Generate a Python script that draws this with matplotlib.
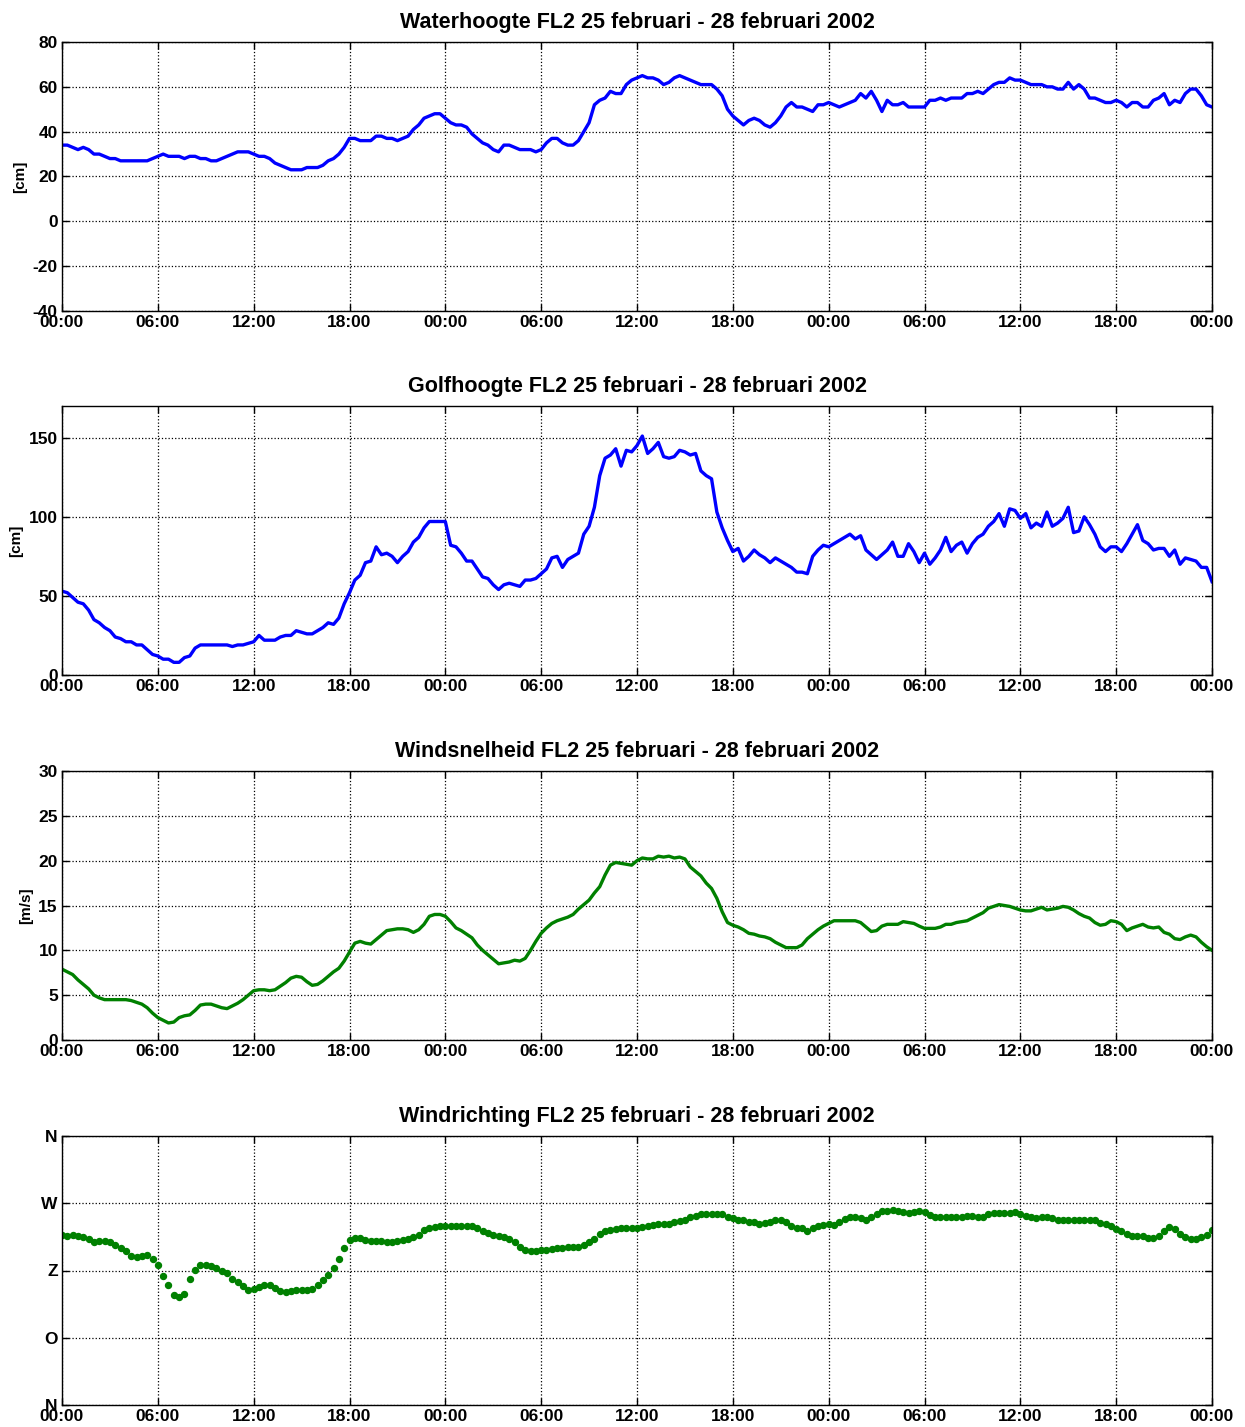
import numpy as np
import pandas as pd
import matplotlib
matplotlib.use("Agg")
import matplotlib.pyplot as plt
import matplotlib.dates as mdates

plt.rcParams['font.family'] = ['Liberation Sans', 'DejaVu Sans']
plt.rcParams['font.weight'] = 'bold'
plt.rcParams['axes.unicode_minus'] = False

# 20-minute samples, 25 feb 00:00 .. 28 feb 00:00
times = pd.date_range("2002-02-25 00:00", "2002-02-28 00:00", freq="20min")

waterhoogte = [
    34, 34, 33, 32, 33, 32, 30, 30, 29, 28, 28, 27,
    27, 27, 27, 27, 27, 28, 29, 30, 29, 29, 29, 28,
    29, 29, 28, 28, 27, 27, 28, 29, 30, 31, 31, 31,
    30, 29, 29, 28, 26, 25, 24, 23, 23, 23, 24, 24,
    24, 25, 27, 28, 30, 33, 37, 37, 36, 36, 36, 38,
    38, 37, 37, 36, 37, 38, 41, 43, 46, 47, 48, 48,
    46, 44, 43, 43, 42, 39, 37, 35, 34, 32, 31, 34,
    34, 33, 32, 32, 32, 31, 32, 35, 37, 37, 35, 34,
    34, 36, 40, 44, 52, 54, 55, 58, 57, 57, 61, 63,
    64, 65, 64, 64, 63, 61, 62, 64, 65, 64, 63, 62,
    61, 61, 61, 59, 56, 50, 47, 45, 43, 45, 46, 45,
    43, 42, 44, 47, 51, 53, 51, 51, 50, 49, 52, 52,
    53, 52, 51, 52, 53, 54, 57, 55, 58, 54, 49, 54,
    52, 52, 53, 51, 51, 51, 51, 54, 54, 55, 54, 55,
    55, 55, 57, 57, 58, 57, 59, 61, 62, 62, 64, 63,
    63, 62, 61, 61, 61, 60, 60, 59, 59, 62, 59, 61,
    59, 55, 55, 54, 53, 53, 54, 53, 51, 53, 53, 51,
    51, 54, 55, 57, 52, 54, 53, 57, 59, 59, 56, 52,
    51,
]

golfhoogte = [
    53, 52, 49, 46, 45, 41, 35, 33, 30, 28, 24, 23,
    21, 21, 19, 19, 16, 13, 12, 10, 10, 8, 8, 11,
    12, 17, 19, 19, 19, 19, 19, 19, 18, 19, 19, 20,
    21, 25, 22, 22, 22, 24, 25, 25, 28, 27, 26, 26,
    28, 30, 33, 32, 36, 45, 52, 60, 63, 71, 72, 81,
    76, 77, 75, 71, 75, 78, 84, 87, 93, 97, 97, 97,
    97, 82, 81, 77, 72, 72, 67, 62, 61, 57, 54, 57,
    58, 57, 56, 60, 60, 61, 64, 67, 74, 75, 68, 73,
    75, 77, 89, 94, 106, 126, 137, 139, 143, 132, 142, 141,
    145, 151, 140, 143, 147, 138, 137, 138, 142, 141, 139, 140,
    129, 126, 124, 103, 93, 85, 78, 80, 72, 75, 79, 76,
    74, 71, 74, 72, 70, 68, 65, 65, 64, 75, 79, 82,
    81, 83, 85, 87, 89, 86, 88, 79, 76, 73, 76, 79,
    84, 75, 75, 83, 78, 71, 77, 70, 74, 79, 87, 78,
    82, 84, 77, 83, 87, 89, 94, 97, 102, 94, 105, 104,
    99, 102, 93, 96, 94, 103, 94, 96, 99, 106, 90, 91,
    100, 95, 89, 81, 78, 81, 81, 78, 83, 89, 95, 85,
    83, 79, 80, 80, 75, 79, 70, 74, 73, 72, 68, 68,
    59,
]

windsnelheid = [
    7.9, 7.6, 7.3, 6.7, 6.2, 5.7, 5.0, 4.7, 4.5, 4.5, 4.5, 4.5,
    4.5, 4.4, 4.2, 4.0, 3.6, 3.0, 2.5, 2.2, 1.9, 2.0, 2.5, 2.7,
    2.8, 3.3, 3.9, 4.0, 4.0, 3.8, 3.6, 3.5, 3.8, 4.1, 4.5, 5.0,
    5.5, 5.6, 5.6, 5.5, 5.6, 6.0, 6.4, 6.9, 7.1, 7.0, 6.5, 6.1,
    6.2, 6.6, 7.1, 7.6, 8.0, 8.8, 9.8, 10.8, 11.0, 10.8, 10.7, 11.2,
    11.7, 12.2, 12.3, 12.4, 12.4, 12.3, 12.0, 12.3, 12.9, 13.8, 14.0, 14.0,
    13.8, 13.2, 12.5, 12.2, 11.8, 11.4, 10.6, 10.0, 9.5, 9.0, 8.5, 8.6,
    8.7, 8.9, 8.8, 9.1, 10.0, 11.0, 11.9, 12.5, 13.0, 13.3, 13.5, 13.7,
    14.0, 14.6, 15.1, 15.6, 16.4, 17.1, 18.4, 19.5, 19.8, 19.7, 19.6, 19.5,
    20.0, 20.3, 20.2, 20.2, 20.5, 20.4, 20.5, 20.3, 20.4, 20.2, 19.3, 18.8,
    18.3, 17.5, 16.9, 15.8, 14.3, 13.1, 12.8, 12.6, 12.3, 11.9, 11.8, 11.6,
    11.5, 11.3, 10.9, 10.6, 10.3, 10.3, 10.3, 10.6, 11.3, 11.8, 12.3, 12.7,
    13.0, 13.3, 13.3, 13.3, 13.3, 13.3, 13.1, 12.6, 12.1, 12.2, 12.7, 12.9,
    12.9, 12.9, 13.2, 13.1, 13.0, 12.7, 12.45, 12.45, 12.45, 12.6, 12.9, 12.9,
    13.1, 13.2, 13.3, 13.6, 13.9, 14.2, 14.7, 14.9, 15.1, 15.0, 14.9, 14.7,
    14.5, 14.4, 14.4, 14.6, 14.8, 14.5, 14.6, 14.7, 14.9, 14.8, 14.5, 14.1,
    13.8, 13.6, 13.1, 12.8, 12.9, 13.3, 13.2, 12.9, 12.2, 12.5, 12.7, 12.9,
    12.6, 12.5, 12.6, 12.0, 11.8, 11.3, 11.2, 11.5, 11.7, 11.5, 10.9, 10.4,
    10.0,
]

windrichting = [
    228, 226, 228, 226, 225, 222, 218, 220, 220, 218, 214, 210,
    206, 200, 198, 200, 201, 196, 187, 173, 160, 147, 145, 149,
    168, 181, 188, 187, 186, 184, 179, 176, 169, 164, 159, 154,
    155, 158, 161, 160, 156, 152, 151, 153, 154, 154, 154, 155,
    160, 167, 174, 183, 196, 210, 221, 223, 224, 221, 219, 219,
    220, 218, 218, 220, 221, 222, 225, 228, 234, 237, 238, 239,
    240, 240, 240, 240, 240, 239, 237, 233, 230, 228, 226, 225,
    222, 218, 211, 208, 206, 206, 207, 208, 209, 210, 210, 211,
    211, 212, 214, 218, 222, 229, 233, 234, 236, 237, 237, 237,
    237, 238, 240, 241, 242, 242, 242, 245, 246, 248, 251, 253,
    256, 256, 256, 256, 255, 252, 250, 248, 247, 245, 245, 242,
    243, 245, 248, 247, 245, 240, 237, 237, 233, 237, 239, 241,
    242, 241, 245, 249, 252, 251, 250, 248, 251, 256, 259, 260,
    261, 260, 258, 257, 258, 259, 258, 254, 252, 251, 251, 251,
    251, 252, 253, 253, 252, 251, 255, 257, 257, 257, 257, 258,
    256, 253, 252, 250, 251, 251, 250, 248, 247, 248, 248, 248,
    248, 248, 247, 244, 242, 239, 236, 233, 229, 226, 226, 226,
    224, 224, 226, 233, 238, 236, 229, 225, 222, 222, 225, 228,
    234,
]

period = "FL2 25 februari - 28 februari 2002"
dir_ticks = [0, 90, 180, 270, 360]
dir_labels = ["N", "O", "Z", "W", "N"]

fig = plt.figure(figsize=(12.45, 14.27), dpi=100)

left, width, height = 62 / 1245, 1150 / 1245, 269 / 1427
bottoms = [1 - 311 / 1427, 1 - 675 / 1427, 1 - 1040 / 1427, 1 - 1405 / 1427]
axes = [fig.add_axes([left, b, width, height]) for b in bottoms]

blue = (0, 0, 1)
green = (0, 0.5, 0)
title_kw = dict(fontsize=15.5, fontweight='bold', pad=10)

axes[0].plot(times, waterhoogte, color=blue, lw=2.4)
axes[0].set_ylim(-40, 80)
axes[0].set_yticks(np.arange(-40, 81, 20))
axes[0].set_ylabel("[cm]", fontsize=11, fontweight='bold')
axes[0].set_title("Waterhoogte " + period, **title_kw)

axes[1].plot(times, golfhoogte, color=blue, lw=2.4)
axes[1].set_ylim(0, 170)
axes[1].set_yticks([0, 50, 100, 150])
axes[1].set_ylabel("[cm]", fontsize=11, fontweight='bold')
axes[1].set_title("Golfhoogte " + period, **title_kw)

axes[2].plot(times, windsnelheid, color=green, lw=2.4)
axes[2].set_ylim(0, 30)
axes[2].set_yticks(np.arange(0, 31, 5))
axes[2].set_ylabel("[m/s]", fontsize=11, fontweight='bold')
axes[2].set_title("Windsnelheid " + period, **title_kw)

axes[3].plot(times, windrichting, ls='none', marker='o', ms=4.3,
             color=green, mec=green)
axes[3].set_ylim(0, 360)
axes[3].set_yticks(dir_ticks)
axes[3].set_yticklabels(dir_labels)
axes[3].set_title("Windrichting " + period, **title_kw)

for ax in axes:
    ax.set_xlim(times[0], times[-1])
    ax.xaxis.set_major_locator(mdates.HourLocator(byhour=range(0, 24, 6)))
    ax.xaxis.set_major_formatter(mdates.DateFormatter("%H:%M"))
    ax.grid(True, color='black', linestyle=':', linewidth=0.9)
    ax.tick_params(direction='in', length=5, width=1, top=True, right=True,
                   labelsize=12.5, pad=3)
    for lbl in ax.get_xticklabels() + ax.get_yticklabels():
        lbl.set_fontweight('bold')
    for sp in ax.spines.values():
        sp.set_linewidth(1.0)

fig.savefig("out.png", dpi=100)
